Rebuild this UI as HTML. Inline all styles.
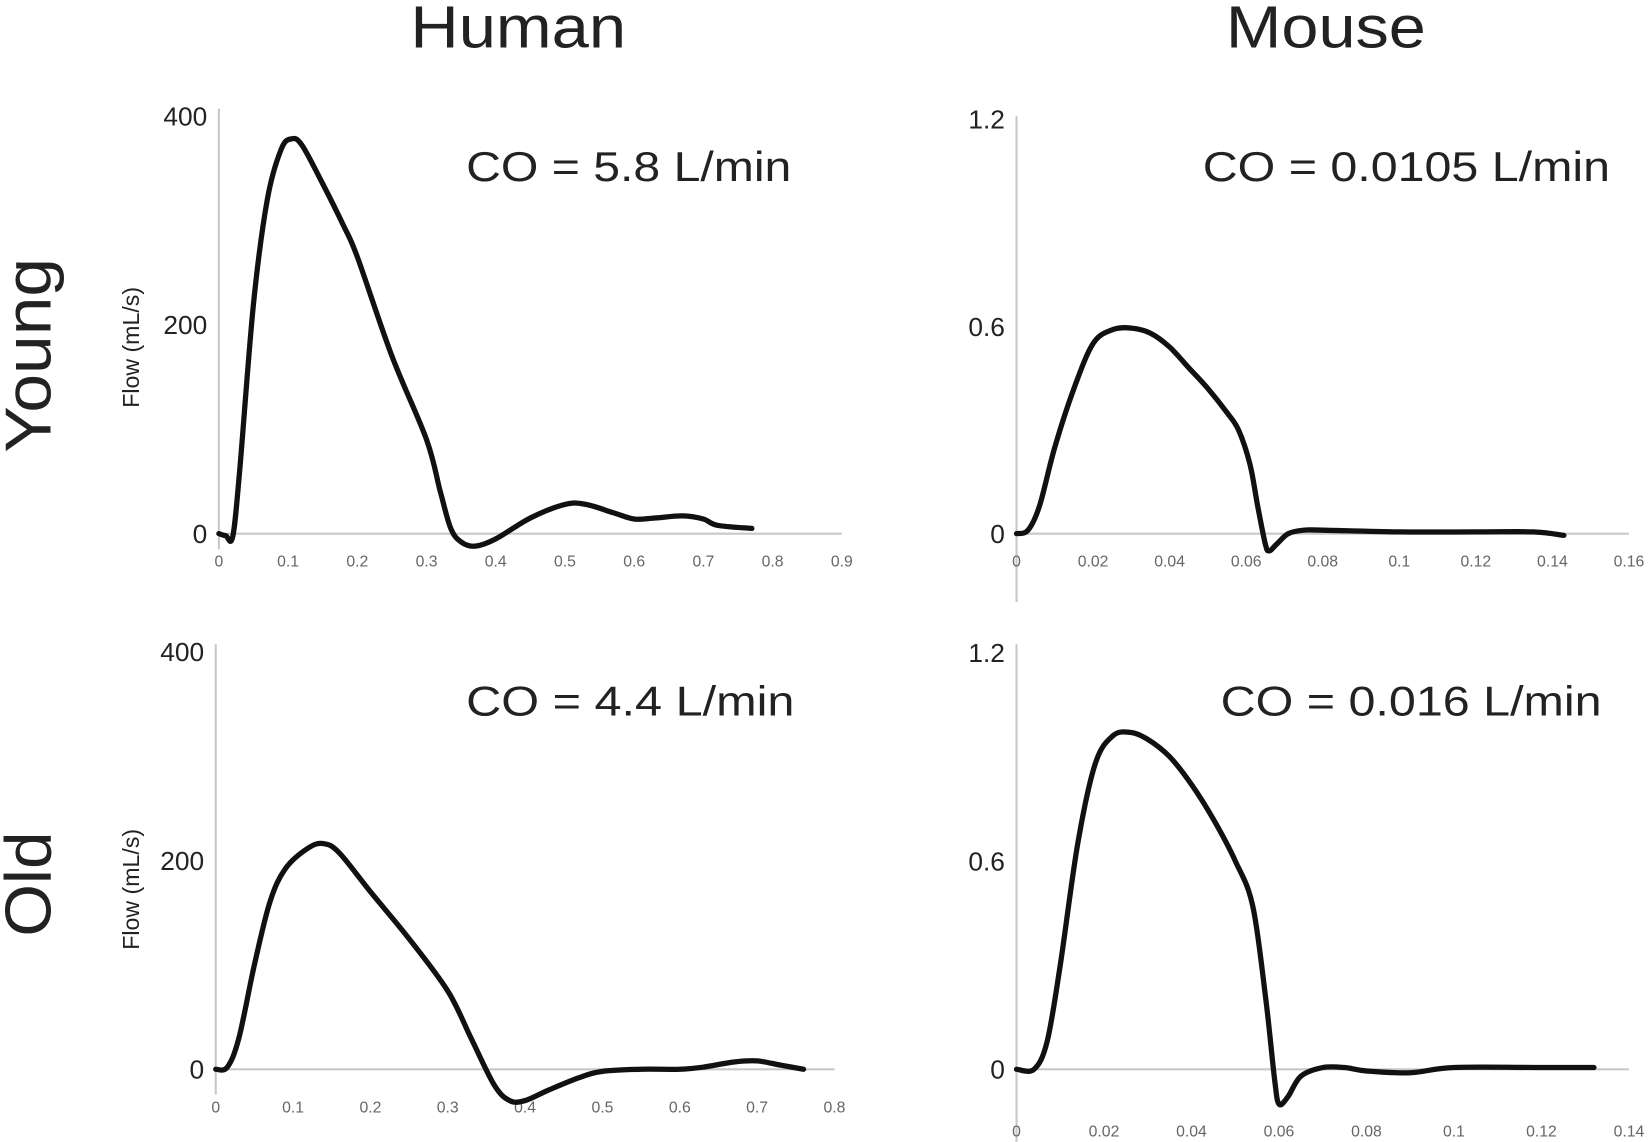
<!DOCTYPE html>
<html><head><meta charset="utf-8"><style>
html,body{margin:0;padding:0;background:#fff;}
svg{display:block;font-family:"Liberation Sans",sans-serif;}
</style></head><body>
<svg id="fig" width="1650" height="1142" viewBox="0 0 1568 1085" xmlns="http://www.w3.org/2000/svg">
<text x="390" y="45" font-size="56" textLength="205" lengthAdjust="spacingAndGlyphs" fill="#222">Human</text>
<text x="1165" y="45" font-size="56" textLength="190" lengthAdjust="spacingAndGlyphs" fill="#222">Mouse</text>
<text transform="translate(48,430) rotate(-90)" font-size="62" textLength="185" lengthAdjust="spacingAndGlyphs" fill="#222">Young</text>
<text transform="translate(48,890) rotate(-90)" font-size="62" textLength="100" lengthAdjust="spacingAndGlyphs" fill="#222">Old</text>
<text transform="translate(132,330) rotate(-90)" font-size="22" text-anchor="middle" fill="#222">Flow (mL/s)</text>
<text transform="translate(132,845) rotate(-90)" font-size="22" text-anchor="middle" fill="#222">Flow (mL/s)</text>
<text x="443" y="172" font-size="40" textLength="309" lengthAdjust="spacingAndGlyphs" fill="#222">CO = 5.8 L/min</text>
<text x="1143" y="172" font-size="40" textLength="387" lengthAdjust="spacingAndGlyphs" fill="#222">CO = 0.0105 L/min</text>
<text x="443" y="680" font-size="40" textLength="312" lengthAdjust="spacingAndGlyphs" fill="#222">CO = 4.4 L/min</text>
<text x="1160" y="680" font-size="40" textLength="362" lengthAdjust="spacingAndGlyphs" fill="#222">CO = 0.016 L/min</text>
<g id="panels"></g>
</svg>
<script>
// Human young
const hyT = [0,0.01,0.02,0.03,0.05,0.07,0.09,0.105,0.12,0.15,0.18,0.2,0.25,0.3,0.32,0.335,0.35,0.37,0.4,0.45,0.5,0.53,0.57,0.6,0.63,0.67,0.7,0.72,0.77];
const hyV = [0,-2,-3,60,220,320,368,378,372,335,295,265,170,90,40,5,-8,-12,-5,15,28,28,20,14,15,17,14,8,5];
const hyXTicks = ["0","0.1","0.2","0.3","0.4","0.5","0.6","0.7","0.8","0.9"];
const hyYTicks = ["0","200","400"];
// Mouse young
const myT = [0,0.003,0.006,0.01,0.015,0.02,0.025,0.03,0.035,0.04,0.045,0.05,0.055,0.058,0.061,0.063,0.065,0.066,0.068,0.071,0.075,0.08,0.1,0.12,0.135,0.143];
const myV = [0,0.01,0.08,0.25,0.42,0.55,0.59,0.595,0.58,0.54,0.48,0.42,0.35,0.3,0.2,0.08,-0.03,-0.05,-0.03,0,0.01,0.01,0.005,0.005,0.005,-0.005];
const myXTicks = ["0","0.02","0.04","0.06","0.08","0.1","0.12","0.14","0.16"];
const myYTicks = ["0","0.6","1.2"];
// Human old
const hoT = [0,0.015,0.03,0.05,0.07,0.09,0.12,0.14,0.16,0.2,0.25,0.3,0.33,0.36,0.38,0.4,0.43,0.47,0.5,0.55,0.6,0.63,0.67,0.7,0.73,0.76];
const hoV = [0,2,30,100,160,192,212,216,207,170,125,75,30,-15,-30,-30,-20,-8,-2,0,0,2,7,8,4,0];
const hoXTicks = ["0","0.1","0.2","0.3","0.4","0.5","0.6","0.7","0.8"];
const hoYTicks = ["0","200","400"];
// Mouse old
const moT = [0,0.004,0.007,0.01,0.014,0.018,0.022,0.026,0.03,0.035,0.04,0.045,0.05,0.054,0.057,0.059,0.06,0.062,0.065,0.07,0.075,0.08,0.09,0.1,0.12,0.132];
const moV = [0,0,0.08,0.3,0.65,0.88,0.96,0.97,0.95,0.9,0.82,0.72,0.6,0.47,0.2,-0.03,-0.1,-0.08,-0.02,0.005,0.005,-0.005,-0.01,0.005,0.005,0.005];
const moXTicks = ["0","0.02","0.04","0.06","0.08","0.1","0.12","0.14"];
const moYTicks = ["0","0.6","1.2"];

const NS="http://www.w3.org/2000/svg";
const root=document.getElementById('panels');
function mk(tag,attrs){const e=document.createElementNS(NS,tag);for(const k in attrs)e.setAttribute(k,attrs[k]);return e;}
function smooth(pts){let d=`M${pts[0][0]},${pts[0][1]}`;for(let i=0;i<pts.length-1;i++){const p0=pts[i-1]||pts[i],p1=pts[i],p2=pts[i+1],p3=pts[i+2]||p2;const c1=[p1[0]+(p2[0]-p0[0])/6,p1[1]+(p2[1]-p0[1])/6],c2=[p2[0]-(p3[0]-p1[0])/6,p2[1]-(p3[1]-p1[1])/6];d+=` C${c1[0]},${c1[1]} ${c2[0]},${c2[1]} ${p2[0]},${p2[1]}`;}return d;}
function panel(name,cfg,T,V,xt,yt){
  const g=mk('g',{});
  
  
  const sx=v=>cfg.x0+(v-cfg.xmin)/(cfg.xmax-cfg.xmin)*(cfg.x1-cfg.x0);
  const sy=v=>cfg.y0-(v/cfg.ymax)*(cfg.y0-cfg.y1);
  const ya=mk('line',{x1:cfg.x0,x2:cfg.x0,y1:cfg.yaTop,y2:cfg.yaBot,stroke:'#c8c8c8','stroke-width':2});
  
  
  g.appendChild(ya);
  const xa=mk('line',{x1:cfg.x0,x2:cfg.x1,y1:cfg.y0,y2:cfg.y0,stroke:'#c8c8c8','stroke-width':2});
  
  
  g.appendChild(xa);
  xt.forEach(s=>{const t=mk('text',{x:sx(parseFloat(s)),y:cfg.xlabY,'font-size':15,'text-anchor':'middle',fill:'#666'});t.textContent=s;
    
    
    g.appendChild(t);});
  yt.forEach(s=>{const t=mk('text',{x:cfg.x0-11,y:sy(parseFloat(s))+9,'font-size':25,'text-anchor':'end',fill:'#222'});t.textContent=s;
    
    
    g.appendChild(t);});
  const pts=T.map((t,i)=>[sx(t),sy(V[i])]);
  const p=mk('path',{d:smooth(pts),fill:'none',stroke:'#111','stroke-width':5,'stroke-linejoin':'round','stroke-linecap':'round'});
  
  
  g.appendChild(p);
  root.appendChild(g);
}
panel('human-young',{x0:208,x1:800,xmin:0,xmax:0.9,y0:507,y1:110,ymax:400,yaTop:103,yaBot:522,xlabY:538},hyT,hyV,hyXTicks,hyYTicks);
panel('mouse-young',{x0:966,x1:1548,xmin:0,xmax:0.16,y0:507,y1:113,ymax:1.2,yaTop:110,yaBot:572,xlabY:538},myT,myV,myXTicks,myYTicks);
panel('human-old',{x0:205,x1:793,xmin:0,xmax:0.8,y0:1016,y1:619,ymax:400,yaTop:612,yaBot:1040,xlabY:1057},hoT,hoV,hoXTicks,hoYTicks);
panel('mouse-old',{x0:966,x1:1548,xmin:0,xmax:0.14,y0:1016,y1:620,ymax:1.2,yaTop:612,yaBot:1085,xlabY:1080},moT,moV,moXTicks,moYTicks);
</script>
</body></html>
